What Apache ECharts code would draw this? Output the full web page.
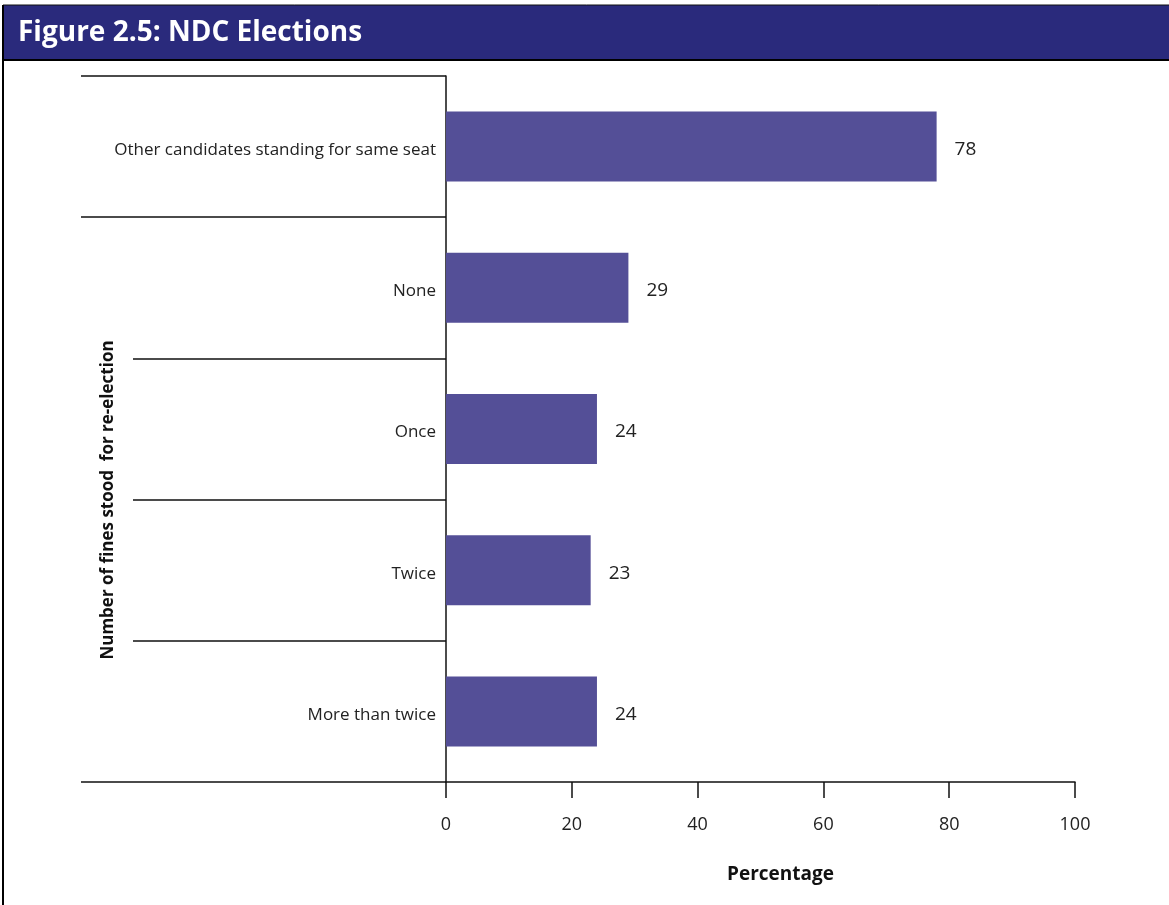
<!DOCTYPE html>
<html>
<head>
<meta charset="utf-8">
<script src="https://cdn.jsdelivr.net/npm/echarts@6/dist/echarts.min.js"></script>
<style>
html,body{margin:0;padding:0;background:#fff;}
#chart{width:1169px;height:905px;}
</style>
</head>
<body>
<div id="chart"></div>
<script>
const titleText = 'Figure 2.5: NDC Elections';
const categories = ['Other candidates standing for same seat', 'None', 'Once', 'Twice', 'More than twice'];
const values = [78, 29, 24, 23, 24];
const xTicks = [0, 20, 40, 60, 80, 100];
const xName = 'Percentage';
const yName = 'Number of fines stood  for re-election';

const font = '"Open Sans", "Noto Sans", sans-serif';
const chart = echarts.init(document.getElementById('chart'), null, {renderer: 'canvas'});
const axisLineStyle = {color: '#111', width: 1.5};

chart.setOption({
  animation: false,
  backgroundColor: '#fff',
  grid: {left: 446, right: 94, top: 76, bottom: 123, containLabel: false},
  xAxis: {
    type: 'value',
    min: xTicks[0],
    max: xTicks[xTicks.length - 1],
    interval: 20,
    axisLine: {show: true, lineStyle: axisLineStyle},
    axisTick: {show: true, length: 16, lineStyle: axisLineStyle},
    splitLine: {show: false},
    axisLabel: {color: '#222', fontSize: 18, fontFamily: font, margin: 34},
    name: xName,
    nameLocation: 'middle',
    nameGap: 83,
    nameTextStyle: {color: '#111', fontSize: 19, fontWeight: 'bold', fontFamily: font, padding: [0, 0, 0, 40]}
  },
  yAxis: [
    {
      type: 'category',
      data: categories,
      inverse: true,
      axisLine: {show: true, lineStyle: axisLineStyle},
      axisTick: {show: true, length: 313, lineStyle: axisLineStyle},
      axisLabel: {color: '#222', fontSize: 17, fontFamily: font, margin: 10, verticalAlign: 'top', padding: [-5, 0, 0, 0]}
    },
    {
      type: 'category',
      data: categories,
      inverse: true,
      position: 'left',
      axisLine: {show: false},
      axisTick: {show: true, length: 365, lineStyle: axisLineStyle,
        interval: function (index) { return index <= 1; }},
      axisLabel: {show: false}
    }
  ],
  series: [{
    type: 'bar',
    data: values,
    yAxisIndex: 0,
    barWidth: 70,
    itemStyle: {color: '#544f97'},
    label: {show: true, position: 'right', distance: 18, offset: [0, 3], color: '#222', fontSize: 19, fontFamily: font}
  }],
  graphic: [
    {type: 'rect', shape: {x: 3, y: 5, width: 1170, height: 55}, style: {fill: '#2a2a7c', stroke: '#111', lineWidth: 1}, z: 10},
    {type: 'rect', shape: {x: 3, y: 59, width: 1170, height: 2}, style: {fill: '#000'}, z: 11},
    {type: 'rect', shape: {x: 2, y: 5, width: 2, height: 900}, style: {fill: '#000'}, z: 11},
    {type: 'text', left: 18, top: 19, style: {text: titleText, fill: '#fff', font: 'bold 28px ' + font}, z: 12},
    {type: 'text', x: 108, y: 500, rotation: Math.PI / 2,
      style: {text: yName, fill: '#111', font: 'bold 17px ' + font, align: 'center', verticalAlign: 'middle'}, z: 12}
  ]
});
</script>
</body>
</html>
